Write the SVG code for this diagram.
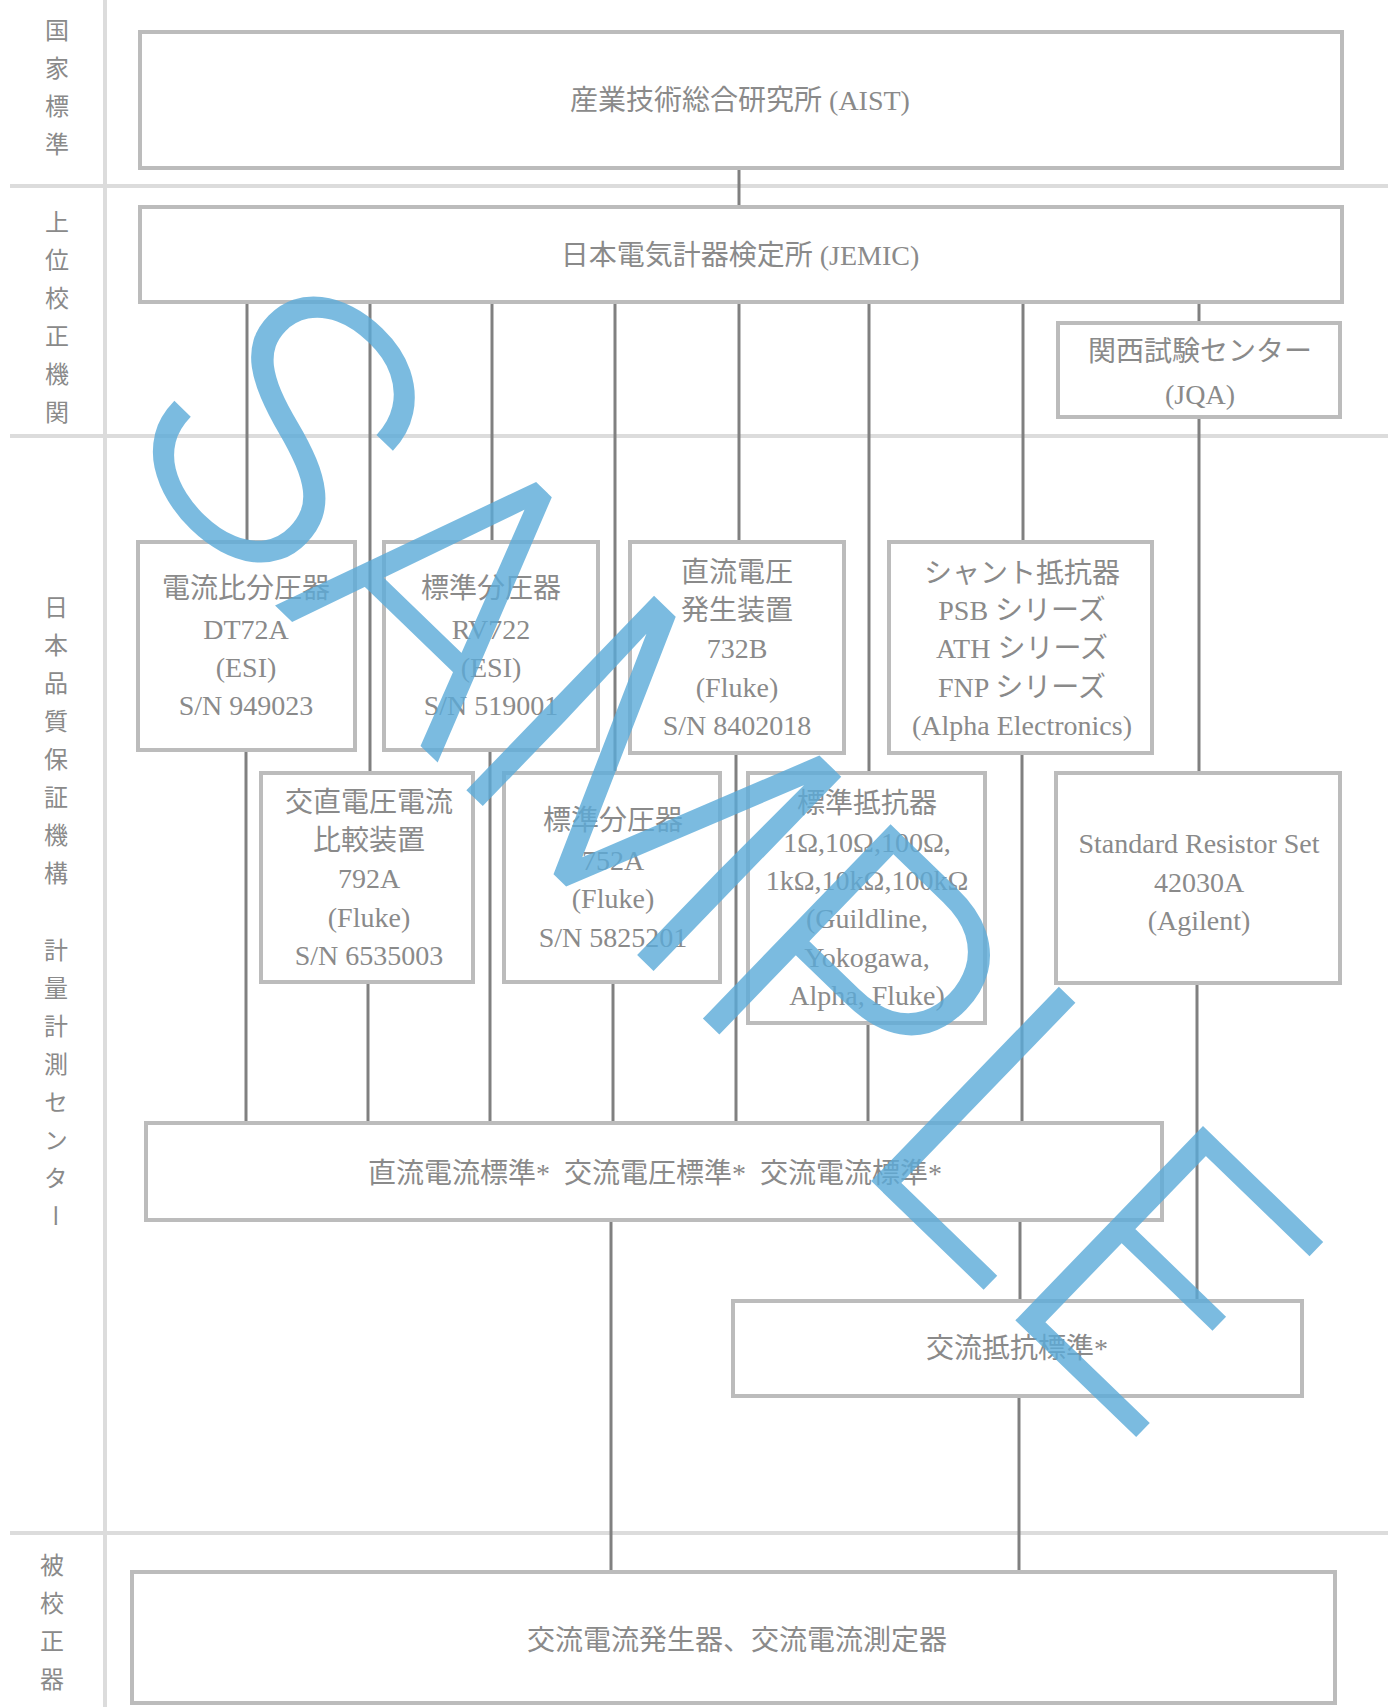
<svg xmlns="http://www.w3.org/2000/svg" width="1391" height="1707" viewBox="0 0 1391 1707">
<style>
.box{fill:#fff;stroke:#bcbcbc;stroke-width:4}
.sep{stroke:#dcdcdc;stroke-width:4;fill:none}
.con{stroke:#808080;stroke-width:3;fill:none}
.t{font-family:"Liberation Serif","Noto Sans CJK JP",serif;font-size:28px;fill:#8a8a8a;text-anchor:middle}
.v{font-family:"Noto Sans CJK JP",sans-serif;font-size:24px;fill:#8a8a8a;writing-mode:vertical-rl;letter-spacing:14px}
.wm{font-family:Roboto,"Liberation Sans",sans-serif;font-weight:300;font-size:380px;fill:#5aaad8;fill-opacity:0.8;text-anchor:middle}
</style>
<rect width="1391" height="1707" fill="#fff"/>
<g id="frame">
<line class="sep" x1="105" y1="0" x2="105" y2="1707"/>
<line class="sep" x1="10" y1="186" x2="1388" y2="186"/>
<line class="sep" x1="10" y1="436" x2="1388" y2="436"/>
<line class="sep" x1="10" y1="1533" x2="1388" y2="1533"/>
</g>
<g id="labels">
<text class="v" x="57" y="18">国家標準</text>
<text class="v" x="57" y="210">上位校正機関</text>
<text class="v" x="56" y="595">日本品質保証機構</text>
<text class="v" x="56" y="938">計量計測センター</text>
<text class="v" x="52" y="1553">被校正器</text>
</g>
<g id="connectors">
<line class="con" x1="739" y1="168" x2="739" y2="207"/>
<line class="con" x1="247" y1="302" x2="247" y2="542"/>
<line class="con" x1="246" y1="750" x2="246" y2="1123"/>
<line class="con" x1="370" y1="302" x2="370" y2="773"/>
<line class="con" x1="368" y1="982" x2="368" y2="1123"/>
<line class="con" x1="492" y1="302" x2="492" y2="542"/>
<line class="con" x1="490" y1="750" x2="490" y2="1123"/>
<line class="con" x1="615" y1="302" x2="615" y2="773"/>
<line class="con" x1="613" y1="982" x2="613" y2="1123"/>
<line class="con" x1="739" y1="302" x2="739" y2="542"/>
<line class="con" x1="736" y1="753" x2="736" y2="1123"/>
<line class="con" x1="869" y1="302" x2="869" y2="773"/>
<line class="con" x1="868" y1="1023" x2="868" y2="1123"/>
<line class="con" x1="1023" y1="302" x2="1023" y2="542"/>
<line class="con" x1="1022" y1="753" x2="1022" y2="1123"/>
<line class="con" x1="1199" y1="302" x2="1199" y2="323"/>
<line class="con" x1="1199" y1="417" x2="1199" y2="773"/>
<line class="con" x1="1197" y1="983" x2="1197" y2="1301"/>
<line class="con" x1="1020" y1="1220" x2="1020" y2="1301"/>
<line class="con" x1="611" y1="1220" x2="611" y2="1572"/>
<line class="con" x1="1019" y1="1396" x2="1019" y2="1572"/>
</g>
<g id="aist"><rect class="box" x="140" y="32" width="1202" height="136"/><text class="t" x="740" y="110">産業技術総合研究所 (AIST)</text></g>
<g id="jemic"><rect class="box" x="140" y="207" width="1202" height="95"/><text class="t" x="740" y="265">日本電気計器検定所 (JEMIC)</text></g>
<g id="jqa"><rect class="box" x="1058" y="323" width="282" height="94"/><text class="t" x="1200" y="361">関西試験センター</text><text class="t" x="1200" y="404">(JQA)</text></g>
<g id="dt72a"><rect class="box" x="138" y="542" width="217" height="208"/>
<text class="t" x="246" y="598">電流比分圧器</text><text class="t" x="246" y="639">DT72A</text><text class="t" x="246" y="677">(ESI)</text><text class="t" x="246" y="715">S/N 949023</text></g>
<g id="rv722"><rect class="box" x="384" y="542" width="214" height="208"/>
<text class="t" x="491" y="598">標準分圧器</text><text class="t" x="491" y="639">RV722</text><text class="t" x="491" y="677">(ESI)</text><text class="t" x="491" y="715">S/N 519001</text></g>
<g id="f732b"><rect class="box" x="630" y="542" width="214" height="211"/>
<text class="t" x="737" y="582">直流電圧</text><text class="t" x="737" y="620">発生装置</text><text class="t" x="737" y="658">732B</text><text class="t" x="737" y="697">(Fluke)</text><text class="t" x="737" y="735">S/N 8402018</text></g>
<g id="shunt"><rect class="box" x="889" y="542" width="263" height="211"/>
<text class="t" x="1022" y="583">シャント抵抗器</text><text class="t" x="1022" y="620">PSB シリーズ</text><text class="t" x="1022" y="658">ATH シリーズ</text><text class="t" x="1022" y="697">FNP シリーズ</text><text class="t" x="1022" y="735">(Alpha Electronics)</text></g>
<g id="f792a"><rect class="box" x="261" y="773" width="212" height="209"/>
<text class="t" x="369" y="812">交直電圧電流</text><text class="t" x="369" y="850">比較装置</text><text class="t" x="369" y="888">792A</text><text class="t" x="369" y="927">(Fluke)</text><text class="t" x="369" y="965">S/N 6535003</text></g>
<g id="f752a"><rect class="box" x="504" y="773" width="216" height="209"/>
<text class="t" x="613" y="830">標準分圧器</text><text class="t" x="613" y="870">752A</text><text class="t" x="613" y="908">(Fluke)</text><text class="t" x="613" y="947">S/N 5825201</text></g>
<g id="stdres"><rect class="box" x="748" y="773" width="237" height="250"/>
<text class="t" x="867" y="813">標準抵抗器</text><text class="t" x="867" y="852">1Ω,10Ω,100Ω,</text><text class="t" x="867" y="890">1kΩ,10kΩ,100kΩ</text><text class="t" x="867" y="928">(Guildline,</text><text class="t" x="867" y="967">Yokogawa,</text><text class="t" x="867" y="1005">Alpha, Fluke)</text></g>
<g id="a42030"><rect class="box" x="1056" y="773" width="284" height="210"/>
<text class="t" x="1199" y="853">Standard Resistor Set</text><text class="t" x="1199" y="892">42030A</text><text class="t" x="1199" y="930">(Agilent)</text></g>
<g id="stdgroup"><rect class="box" x="146" y="1123" width="1016" height="97"/><text class="t" x="655" y="1183">直流電流標準*&#8194;交流電圧標準*&#8194;交流電流標準*</text></g>
<g id="acres"><rect class="box" x="733" y="1301" width="569" height="95"/><text class="t" x="1017" y="1358">交流抵抗標準*</text></g>
<g id="customer"><rect class="box" x="132" y="1572" width="1203" height="131"/><text class="t" x="737" y="1650">交流電流発生器、交流電流測定器</text></g>
<g id="watermark"><text class="wm" transform="translate(722,848) rotate(44)" x="0" y="136">SAMPLE</text></g>
</svg>
